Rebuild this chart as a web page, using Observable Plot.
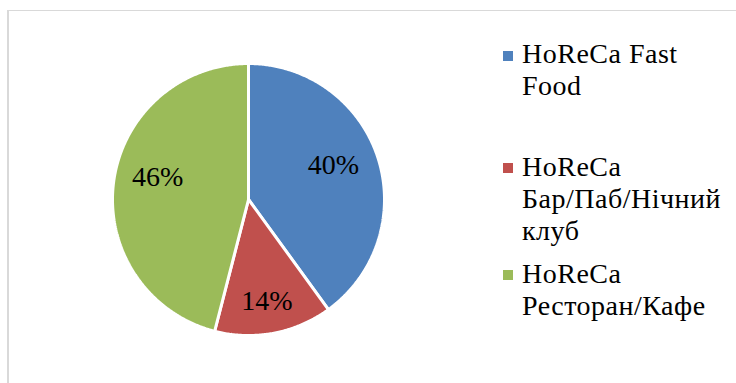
<!DOCTYPE html>
<html>
<head>
<meta charset="utf-8">
<script src="https://cdn.jsdelivr.net/npm/d3@7"></script>
<script src="https://cdn.jsdelivr.net/npm/@observablehq/plot@0.6"></script>
<style>
html, body { margin: 0; padding: 0; background: #fff; width: 736px; height: 383px; overflow: hidden; }
#wrap { position: relative; width: 736px; height: 383px; }
#frame { position: absolute; left: 7px; top: 10px; width: 760px; height: 400px; border-left: 2px solid #d9d9d9; border-top: 1px solid #d9d9d9; box-sizing: border-box; }
#chart { position: absolute; left: 0; top: 0; }
#legend { position: absolute; left: 503px; top: 0; font-family: "Liberation Serif", "Times New Roman", serif; font-size: 28px; line-height: 32px; color: #000; letter-spacing: 0.5px; }
.item { position: absolute; left: 0; white-space: nowrap; }
.sw { position: absolute; left: 0; width: 10px; height: 10px; }
.txt { position: absolute; left: 19px; top: 0; }
</style>
</head>
<body>
<div id="wrap">
  <div id="frame"></div>
  <div id="chart"></div>
  <div id="legend"></div>
</div>
<script>
// ---- data ----
const categories = ["HoReCa Fast Food", "HoReCa Бар/Паб/Нічний клуб", "HoReCa Ресторан/Кафе"];
const shares = [40, 14, 46];
const percentLabels = ["40%", "14%", "46%"];
const legendLines = [["HoReCa Fast", "Food"], ["HoReCa", "Бар/Паб/Нічний", "клуб"], ["HoReCa", "Ресторан/Кафе"]];
const colors = ["#4F81BD", "#C0504D", "#9BBB59"];

// ---- layout (styling only) ----
const cx = 248, cy = 199, R = 136;
const labelRadius = 0.68;
const labelNudge = [[-3, -6], [1, 11], [1, -11]];
const legendTops = [38, 151, 258];
const swatchOffset = [13, 12, 12];

// ---- pie geometry from data ----
const arcs = d3.pie().sort(null).value(d => d)(shares);
const slices = arcs.map((a, i) => {
  const n = Math.max(2, Math.ceil((a.endAngle - a.startAngle) / (Math.PI / 360)));
  const pts = [{x: 0, y: 0}];
  for (let k = 0; k <= n; k++) {
    const t = a.startAngle + (a.endAngle - a.startAngle) * k / n;
    pts.push({x: Math.sin(t), y: Math.cos(t)});
  }
  return pts;
});
const labelData = arcs.map((a, i) => {
  const m = (a.startAngle + a.endAngle) / 2;
  return {label: percentLabels[i], x: labelRadius * Math.sin(m), y: labelRadius * Math.cos(m)};
});

const marks = [];
slices.forEach((pts, i) => {
  marks.push(Plot.line(pts, {x: "x", y: "y", curve: "linear-closed", fill: colors[i], stroke: "white", strokeWidth: 3, strokeLinejoin: "miter"}));
});
labelData.forEach((d, i) => {
  marks.push(Plot.text([d], {x: "x", y: "y", text: "label", fontFamily: "Liberation Serif, Times New Roman, serif", fontSize: 28, fill: "#000", dx: labelNudge[i][0], dy: labelNudge[i][1]}));
});

const plot = Plot.plot({
  width: 736,
  height: 383,
  margin: 0,
  x: {domain: [-1, 1], range: [cx - R, cx + R], axis: null},
  y: {domain: [-1, 1], range: [cy + R, cy - R], axis: null},
  style: {background: "transparent", overflow: "visible"},
  marks
});
document.getElementById("chart").appendChild(plot);

// ---- legend ----
const legend = document.getElementById("legend");
categories.forEach((c, i) => {
  const item = document.createElement("div");
  item.className = "item";
  item.style.top = legendTops[i] + "px";
  const sw = document.createElement("div");
  sw.className = "sw";
  sw.style.background = colors[i];
  sw.style.top = swatchOffset[i] + "px";
  const txt = document.createElement("div");
  txt.className = "txt";
  txt.innerHTML = legendLines[i].join("<br>");
  item.title = c;
  item.appendChild(sw);
  item.appendChild(txt);
  legend.appendChild(item);
});
</script>
</body>
</html>
